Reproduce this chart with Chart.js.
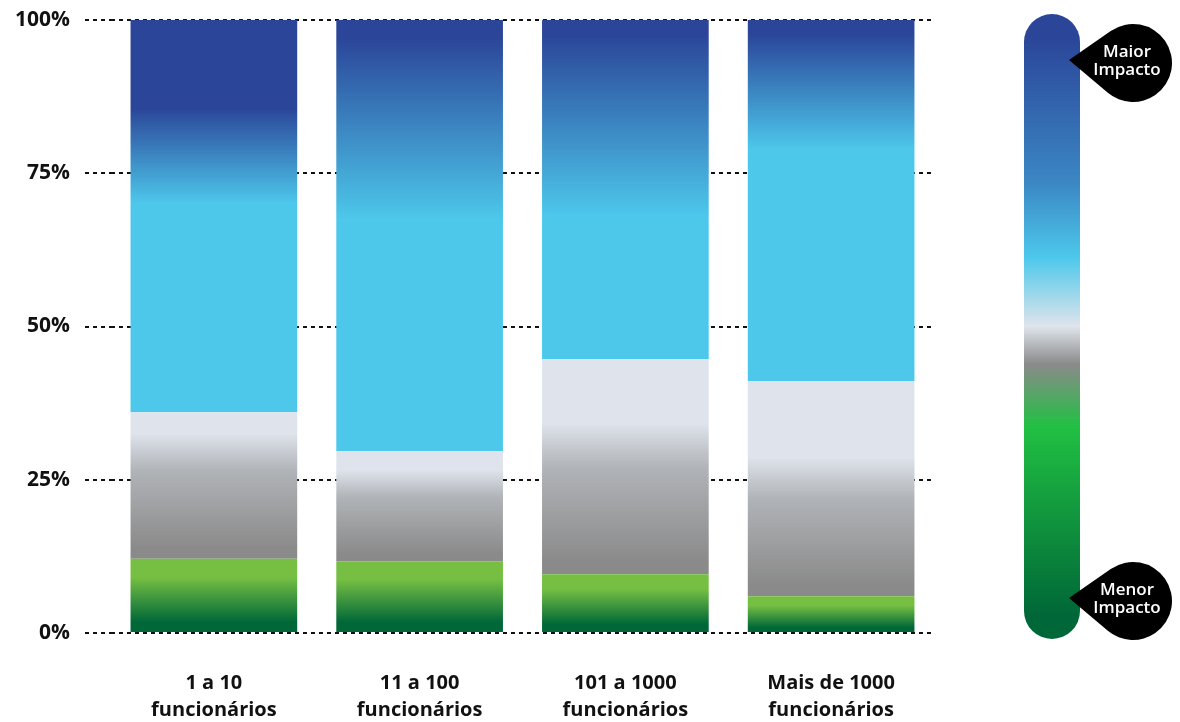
<!DOCTYPE html>
<html lang="pt">
<head>
<meta charset="utf-8">
<title>Impacto por porte de empresa</title>
<script src="https://cdn.jsdelivr.net/npm/chart.js@4.4.1/dist/chart.umd.min.js"></script>
<style>
  html, body { margin: 0; padding: 0; background: #fff; }
  #wrap { position: relative; width: 1180px; height: 722px; }
</style>
</head>
<body>
<div id="wrap"><canvas id="impactChart" width="1180" height="722"></canvas></div>
<script>
const labels = [['1 a 10', 'funcionários'], ['11 a 100', 'funcionários'], ['101 a 1000', 'funcionários'], ['Mais de 1000', 'funcionários']];
const menorImpacto = [12.1, 11.7, 9.6, 6.0];
const neutro = [23.9, 18.0, 35.1, 35.1];
const maiorImpacto = [64.0, 70.3, 55.3, 58.9];

// where the gradient inside each bar turns (values on the % axis)
const azulEscuroAte = [85.6, 97.0, 97.4, 97.6];
const cianoAte = [70.0, 67.4, 67.9, 78.8];
const cinzaClaroAte = [32.6, 26.6, 34.3, 28.7];

const yTicks = [0, 25, 50, 75, 100];

const cores = {
    azul: '#2b4699',
    ciano: '#4dc8eb',
    cinzaClaro: '#dfe4ec',
    cinzaMedio: '#b0b3b7',
    cinzaEscuro: '#8a8a8a',
    verdeClaro: '#76bf43',
    verdeEscuro: '#006838'
};

function gradiente(context, from, to, stops, fallback) {
    const chart = context.chart;
    if (!chart.chartArea || context.type !== 'data') return fallback;
    const y = chart.scales.y;
    const g = chart.ctx.createLinearGradient(0, y.getPixelForValue(from), 0, y.getPixelForValue(to));
    stops.forEach(s => g.addColorStop(s[0], s[1]));
    return g;
}

const fillVerde = (context) => {
    const top = menorImpacto[context.dataIndex];
    return gradiente(context, top * 0.75, top * 0.15,
        [[0, cores.verdeClaro], [1, cores.verdeEscuro]], cores.verdeClaro);
};

const fillCinza = (context) => {
    const i = context.dataIndex;
    return gradiente(context, cinzaClaroAte[i], menorImpacto[i],
        [[0, cores.cinzaClaro], [0.3, cores.cinzaMedio], [0.92, cores.cinzaEscuro], [1, cores.cinzaEscuro]], cores.cinzaClaro);
};

const fillAzul = (context) => {
    const i = context.dataIndex;
    return gradiente(context, azulEscuroAte[i], cianoAte[i],
        [[0, cores.azul], [1, cores.ciano]], cores.ciano);
};

// scale bar + callouts on the right
function balao(ctx, tipX, tipY, cx, cy, r, linhas) {
    const a = Math.atan2(tipY - cy, tipX - cx);
    const t = Math.acos(r / Math.hypot(tipX - cx, tipY - cy));
    ctx.beginPath();
    ctx.moveTo(tipX, tipY);
    ctx.arc(cx, cy, r, a + t, a - t, false);
    ctx.closePath();
    ctx.fillStyle = '#000';
    ctx.fill();

    ctx.fillStyle = '#fff';
    ctx.font = '600 17px "Open Sans"';
    ctx.textAlign = 'center';
    ctx.textBaseline = 'alphabetic';
    ctx.fillText(linhas[0], cx - 6, cy - 6);
    ctx.fillText(linhas[1], cx - 6, cy + 12);
}

const escalaImpacto = {
    id: 'escalaImpacto',
    afterDraw(chart) {
        const ctx = chart.ctx;
        const x = 1024, top = 14, w = 56, h = 625;
        ctx.save();
        const g = ctx.createLinearGradient(0, top, 0, top + h);
        g.addColorStop(0.04, cores.azul);
        g.addColorStop(0.27, '#3b87c4');
        g.addColorStop(0.39, cores.ciano);
        g.addColorStop(0.5, cores.cinzaClaro);
        g.addColorStop(0.56, cores.cinzaEscuro);
        g.addColorStop(0.66, '#21c043');
        g.addColorStop(0.96, cores.verdeEscuro);
        ctx.fillStyle = g;
        ctx.beginPath();
        ctx.roundRect(x, top, w, h, w / 2);
        ctx.fill();

        balao(ctx, 1069, 60, 1133, 63, 39, ['Maior', 'Impacto']);
        balao(ctx, 1069, 598, 1133, 601, 39, ['Menor', 'Impacto']);
        ctx.restore();
    }
};

new Chart(document.getElementById('impactChart').getContext('2d'), {
    type: 'bar',
    data: {
        labels: labels,
        datasets: [
            { label: 'Menor impacto', data: menorImpacto, backgroundColor: fillVerde },
            { label: 'Neutro', data: neutro, backgroundColor: fillCinza },
            { label: 'Maior impacto', data: maiorImpacto, backgroundColor: fillAzul }
        ]
    },
    options: {
        responsive: false,
        animation: false,
        barPercentage: 0.81,
        categoryPercentage: 1,
        layout: { padding: { top: 20, right: 246, left: 0, bottom: 0 } },
        plugins: {
            legend: { display: false },
            tooltip: { enabled: false }
        },
        scales: {
            x: {
                stacked: true,
                grid: { display: false, drawTicks: false },
                border: { display: false },
                ticks: {
                    color: '#111',
                    padding: 37,
                    maxRotation: 0,
                    autoSkip: false,
                    font: { family: 'Open Sans', weight: 'bold', size: 20, lineHeight: 1.35 }
                },
                afterFit: s => { s.height = 89; }
            },
            y: {
                stacked: true,
                min: 0,
                max: 100,
                afterBuildTicks: s => { s.ticks = yTicks.map(v => ({ value: v })); },
                grid: {
                    color: '#111',
                    lineWidth: 2,
                    tickLength: 26,
                    tickColor: '#111',
                    tickWidth: 2,
                    tickBorderDash: [4, 4]
                },
                border: { display: false, dash: [4, 4] },
                ticks: {
                    color: '#111',
                    padding: 15,
                    font: { family: 'Open Sans', weight: 'bold', size: 21 },
                    callback: v => v + '%'
                },
                afterFit: s => {
                    s.width = 111;
                    s.paddingTop = 0;
                    s.paddingBottom = 0;
                }
            }
        }
    },
    plugins: [escalaImpacto]
});
</script>
</body>
</html>
